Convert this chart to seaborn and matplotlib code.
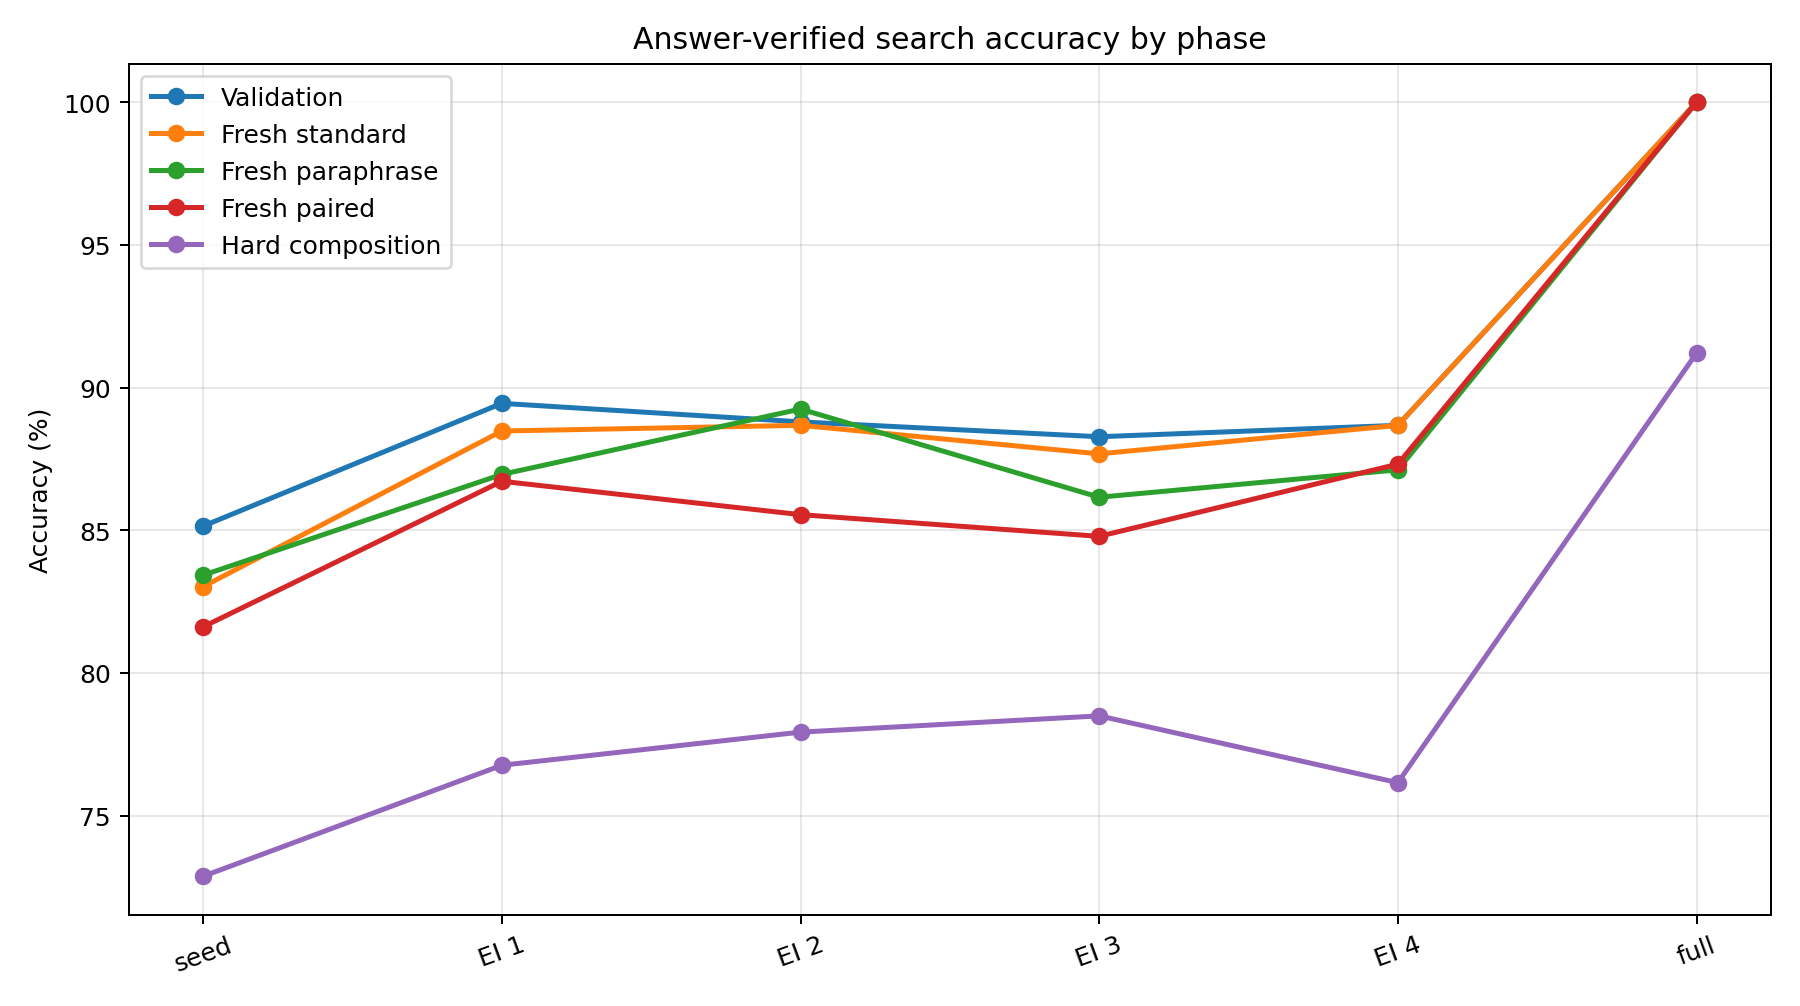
import matplotlib
matplotlib.use("Agg")
import matplotlib.pyplot as plt
import seaborn as sns
import pandas as pd

# datos
fases = ["seed", "EI 1", "EI 2", "EI 3", "EI 4", "full"]
validation = [85.15, 89.45, 88.8, 88.28, 88.68, 100.0]
fresh_standard = [83.03, 88.48, 88.68, 87.68, 88.68, 100.0]
fresh_paraphrase = [83.43, 86.96, 89.25, 86.16, 87.12, 100.0]
fresh_paired = [81.62, 86.72, 85.55, 84.79, 87.32, 100.0]
hard_composition = [72.88, 76.77, 77.93, 78.5, 76.16, 91.21]

series = {
    "Validation": validation,
    "Fresh standard": fresh_standard,
    "Fresh paraphrase": fresh_paraphrase,
    "Fresh paired": fresh_paired,
    "Hard composition": hard_composition,
}
colores = ["#1f77b4", "#ff7f0e", "#2ca02c", "#d62728", "#9467bd"]

fig, ax = plt.subplots(figsize=(10, 5.594), dpi=180)

for (nombre, valores), c in zip(series.items(), colores):
    df = pd.DataFrame({"fase": fases, "acc": valores})
    sns.lineplot(data=df, x="fase", y="acc", ax=ax, color=c, marker="o",
                 markersize=6, markeredgecolor=c, markeredgewidth=1,
                 linewidth=2, label=nombre)

ax.set_title("Answer-verified search accuracy by phase")
ax.set_xlabel("")
ax.set_ylabel("Accuracy (%)")
ax.grid(True, alpha=0.3)
ax.legend(loc="upper left", labelspacing=0.52)
plt.setp(ax.get_xticklabels(), rotation=20)

plt.subplots_adjust(left=0.0714, right=0.984, top=0.936, bottom=0.0904)
plt.savefig("out.png", dpi=180)
